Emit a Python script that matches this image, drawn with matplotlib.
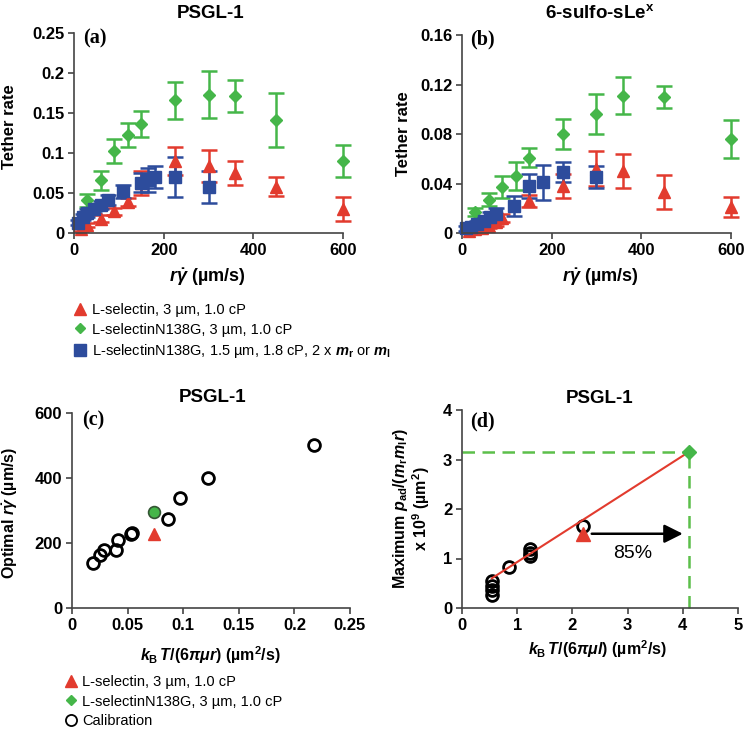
import numpy as np
import matplotlib
matplotlib.use('Agg')
import matplotlib.pyplot as plt
from matplotlib.lines import Line2D
from matplotlib.ticker import FormatStrFormatter

plt.rcParams['font.family'] = ['Liberation Sans', 'DejaVu Sans']
plt.rcParams['mathtext.fontset'] = 'custom'
plt.rcParams['mathtext.rm'] = 'Liberation Sans:bold'
plt.rcParams['mathtext.it'] = 'Liberation Sans:italic:bold'
plt.rcParams['mathtext.bf'] = 'Liberation Sans:bold'

RED = '#e23b2e'
GREEN = '#45b649'
BLUE = '#2d4c9c'
DGREEN = '#5cbf4a'

# ---- panel (a): PSGL-1 tether rate
a_red_x = [15, 30, 60, 90, 120, 150, 225, 300, 360, 450, 600]
a_red_y = [0.005, 0.010, 0.018, 0.027, 0.039, 0.062, 0.090, 0.084, 0.075, 0.058, 0.030]
a_red_e = [0.002, 0.003, 0.004, 0.004, 0.005, 0.015, 0.018, 0.020, 0.015, 0.012, 0.015]

a_grn_x = [30, 60, 90, 120, 150, 225, 300, 360, 450, 600]
a_grn_y = [0.041, 0.066, 0.102, 0.122, 0.136, 0.166, 0.173, 0.171, 0.141, 0.090]
a_grn_e = [0.008, 0.012, 0.015, 0.015, 0.016, 0.023, 0.029, 0.020, 0.034, 0.020]

a_blu_x = [10, 20, 30, 45, 60, 75, 110, 150, 165, 180, 225, 300]
a_blu_y = [0.013, 0.020, 0.025, 0.030, 0.035, 0.041, 0.052, 0.063, 0.066, 0.070, 0.070, 0.057]
a_blu_e = [0.003, 0.004, 0.005, 0.005, 0.005, 0.006, 0.008, 0.012, 0.015, 0.014, 0.025, 0.020]

# ---- panel (b): 6-sulfo-sLeX tether rate
b_red_x = [15, 30, 45, 60, 75, 90, 150, 225, 300, 360, 450, 600]
b_red_y = [0.002, 0.003, 0.004, 0.006, 0.009, 0.012, 0.026, 0.038, 0.052, 0.050, 0.033, 0.021]
b_red_e = [0.001, 0.001, 0.002, 0.002, 0.003, 0.003, 0.005, 0.010, 0.014, 0.014, 0.014, 0.008]

b_grn_x = [30, 60, 90, 120, 150, 225, 300, 360, 450, 600]
b_grn_y = [0.017, 0.027, 0.037, 0.046, 0.061, 0.080, 0.096, 0.111, 0.110, 0.076]
b_grn_e = [0.003, 0.005, 0.009, 0.011, 0.008, 0.012, 0.016, 0.015, 0.009, 0.015]

b_blu_x = [10, 20, 33, 50, 62, 75, 115, 150, 180, 225, 300]
b_blu_y = [0.004, 0.005, 0.007, 0.010, 0.013, 0.015, 0.022, 0.038, 0.041, 0.049, 0.045]
b_blu_e = [0.002, 0.002, 0.003, 0.003, 0.004, 0.005, 0.008, 0.010, 0.014, 0.008, 0.009]

# ---- panel (c): optimal shear vs diffusivity
c_cal_x = [0.019, 0.025, 0.029, 0.040, 0.041, 0.053, 0.054, 0.086, 0.097, 0.122, 0.218]
c_cal_y = [139, 163, 180, 180, 209, 228, 232, 273, 340, 401, 501]
c_red = (0.0737, 228)
c_grn = (0.0737, 296)

# ---- panel (d): maximum adhesion probability
d_cal_x = [0.54, 0.54, 0.54, 0.54, 0.86, 1.23, 1.23, 1.23, 2.19]
d_cal_y = [0.27, 0.37, 0.45, 0.55, 0.83, 1.05, 1.12, 1.20, 1.66]
d_fit_x = [0.54, 4.12]
d_fit_y = [0.60, 3.16]
d_red = (2.2, 1.50)
d_grn = (4.12, 3.16)

W, H = 745, 730
fig = plt.figure(figsize=(W / 100, H / 100), dpi=100)


def style(ax):
    for s in ['top', 'right']:
        ax.spines[s].set_visible(False)
    for s in ['left', 'bottom']:
        ax.spines[s].set_color('#444444')
        ax.spines[s].set_linewidth(1.2)
    ax.tick_params(direction='out', length=4, width=1.2, color='#444444',
                   labelsize=12, pad=3)
    for t in ax.get_xticklabels() + ax.get_yticklabels():
        t.set_fontweight('bold')


def eb(ax, x, y, e, fmt, color, ms):
    ax.errorbar(x, y, yerr=e, fmt=fmt, color=color, ms=ms, mec=color,
                capsize=6, capthick=1.8, elinewidth=1.8, clip_on=False)


def plabel(ax, s, x, y):
    ax.text(x, y, s, transform=ax.transAxes, ha='left', va='center',
            fontsize=14.5, fontweight='bold', family='Liberation Serif')


def ptitle(ax, s, x, y):
    ax.text(x, y, s, transform=ax.transAxes, ha='center', va='center',
            fontsize=13.5, fontweight='bold')


xlab_a = r'$r\dot{\gamma}$ (µm/s)'

# (a)
axA = fig.add_axes([74 / W, 1 - 233 / H, 269 / W, 200 / H])
eb(axA, a_grn_x, a_grn_y, a_grn_e, 'D', GREEN, 6.5)
eb(axA, a_red_x, a_red_y, a_red_e, '^', RED, 8.5)
eb(axA, a_blu_x, a_blu_y, a_blu_e, 's', BLUE, 8)
axA.set_xlim(0, 600)
axA.set_ylim(0, 0.25)
axA.set_xticks([0, 200, 400, 600])
axA.set_yticks([0, 0.05, 0.1, 0.15, 0.2, 0.25])
axA.yaxis.set_major_formatter(FormatStrFormatter('%g'))
style(axA)
axA.set_xlabel(xlab_a, fontsize=13, fontweight='bold', va='center')
axA.xaxis.set_label_coords(0.494, -0.22)
axA.set_ylabel('Tether rate', fontsize=12, fontweight='bold', va='center')
axA.yaxis.set_label_coords(-0.238, 0.53)
ptitle(axA, 'PSGL-1', 0.506, 1.10)
plabel(axA, '(a)', 0.033, 0.975)

# (b)
axB = fig.add_axes([462 / W, 1 - 233 / H, 269 / W, 198 / H])
eb(axB, b_grn_x, b_grn_y, b_grn_e, 'D', GREEN, 6.5)
eb(axB, b_red_x, b_red_y, b_red_e, '^', RED, 8.5)
eb(axB, b_blu_x, b_blu_y, b_blu_e, 's', BLUE, 8)
axB.set_xlim(0, 600)
axB.set_ylim(0, 0.16)
axB.set_xticks([0, 200, 400, 600])
axB.set_yticks([0, 0.04, 0.08, 0.12, 0.16])
axB.yaxis.set_major_formatter(FormatStrFormatter('%g'))
style(axB)
axB.set_xlabel(xlab_a, fontsize=13, fontweight='bold', va='center')
axB.xaxis.set_label_coords(0.513, -0.22)
axB.set_ylabel('Tether rate', fontsize=12, fontweight='bold', va='center')
axB.yaxis.set_label_coords(-0.219, 0.5)
ptitle(axB, r'6-sulfo-sLe$^\mathrm{x}$', 0.513, 1.111)
plabel(axB, '(b)', 0.03, 0.975)

# top legend
top_handles = [
    Line2D([], [], ls='none', marker='^', color=RED, ms=8),
    Line2D([], [], ls='none', marker='D', color=GREEN, ms=5),
    Line2D([], [], ls='none', marker='s', color=BLUE, ms=8),
]
top_labels = [
    'L-selectin, 3 µm, 1.0 cP',
    'L-selectinN138G, 3 µm, 1.0 cP',
    r'L-selectinN138G, 1.5 µm, 1.8 cP, 2 x $m_\mathrm{r}$ or $m_\mathrm{l}$',
]
fig.legend(top_handles, top_labels, loc='upper left',
           bbox_to_anchor=(74 / W, 1 - 303 / H), frameon=False, fontsize=10.5,
           handlelength=0.8, handletextpad=0.4, labelspacing=0.38,
           borderpad=0, borderaxespad=0, numpoints=1)

# (c)
axC = fig.add_axes([72 / W, 1 - 608 / H, 278 / W, 195 / H])
axC.plot(c_cal_x, c_cal_y, ls='none', marker='o', ms=8.5, mfc='none',
         mec='black', mew=2)
axC.plot(*c_grn, ls='none', marker='o', ms=8.5, mfc=GREEN, mec='#335533', mew=1.2)
axC.plot(*c_red, ls='none', marker='^', ms=9, color=RED)
axC.set_xlim(0, 0.25)
axC.set_ylim(0, 600)
axC.set_xticks([0, 0.05, 0.1, 0.15, 0.2, 0.25])
axC.set_yticks([0, 200, 400, 600])
axC.xaxis.set_major_formatter(FormatStrFormatter('%g'))
style(axC)
axC.set_xlabel(r'$k_\mathrm{B}\,T/(6\pi\mu r)$ (µm$^2$/s)', fontsize=11.5,
               fontweight='bold', va='center')
axC.xaxis.set_label_coords(0.496, -0.241)
axC.set_ylabel(r'Optimal $r\dot{\gamma}$ (µm/s)', fontsize=11.5,
               fontweight='bold', va='center')
axC.yaxis.set_label_coords(-0.223, 0.487)
ptitle(axC, 'PSGL-1', 0.507, 1.082)
plabel(axC, '(c)', 0.036, 0.964)

# (d)
axD = fig.add_axes([462 / W, 1 - 608 / H, 276 / W, 198 / H])
axD.plot([0, d_grn[0]], [d_grn[1], d_grn[1]], ls=(0, (5, 3)), color=DGREEN,
         lw=1.8, clip_on=False)
axD.plot([d_grn[0], d_grn[0]], [0, d_grn[1]], ls=(0, (5, 3)), color=DGREEN,
         lw=1.8, clip_on=False)
axD.plot(d_cal_x, d_cal_y, ls='none', marker='o', ms=8.5, mfc='none',
         mec='black', mew=2)
axD.plot(d_fit_x, d_fit_y, color=RED, lw=1.5)
axD.plot(*d_red, ls='none', marker='^', ms=9.5, color=RED)
axD.plot(*d_grn, ls='none', marker='D', ms=7, color=GREEN, clip_on=False)
axD.annotate('', xy=(4.05, d_red[1]), xytext=(2.3, d_red[1]),
             arrowprops=dict(arrowstyle='-|>', color='black', lw=1.8,
                             mutation_scale=28))
axD.text(3.1, 1.11, '85%', ha='center', va='center', fontsize=14)
axD.set_xlim(0, 5)
axD.set_ylim(0, 4)
axD.set_xticks([0, 1, 2, 3, 4, 5])
axD.set_yticks([0, 1, 2, 3, 4])
style(axD)
axD.set_xlabel(r'$k_\mathrm{B}\,T/(6\pi\mu l)$ (µm$^2$/s)', fontsize=11.5,
               fontweight='bold', va='center')
axD.xaxis.set_label_coords(0.49, -0.21)
axD.set_ylabel('Maximum $p_\\mathrm{ad}$/($m_\\mathrm{r}m_\\mathrm{l}r$)\n'
               'x 10$^9$ (µm$^2$)', fontsize=11.5, fontweight='bold',
               va='center', linespacing=1.0)
axD.yaxis.set_label_coords(-0.182, 0.5)
ptitle(axD, 'PSGL-1', 0.5, 1.06)
plabel(axD, '(d)', 0.03, 0.94)

# bottom legend
bot_handles = [
    Line2D([], [], ls='none', marker='^', color=RED, ms=8),
    Line2D([], [], ls='none', marker='D', color=GREEN, ms=5),
    Line2D([], [], ls='none', marker='o', mfc='none', mec='black', mew=1.3, ms=8),
]
bot_labels = [
    'L-selectin, 3 µm, 1.0 cP',
    'L-selectinN138G, 3 µm, 1.0 cP',
    'Calibration',
]
fig.legend(bot_handles, bot_labels, loc='upper left',
           bbox_to_anchor=(65 / W, 1 - 675 / H), frameon=False, fontsize=10.5,
           handlelength=0.8, handletextpad=0.4, labelspacing=0.38,
           borderpad=0, borderaxespad=0, numpoints=1)

fig.savefig('out.png', dpi=100)
